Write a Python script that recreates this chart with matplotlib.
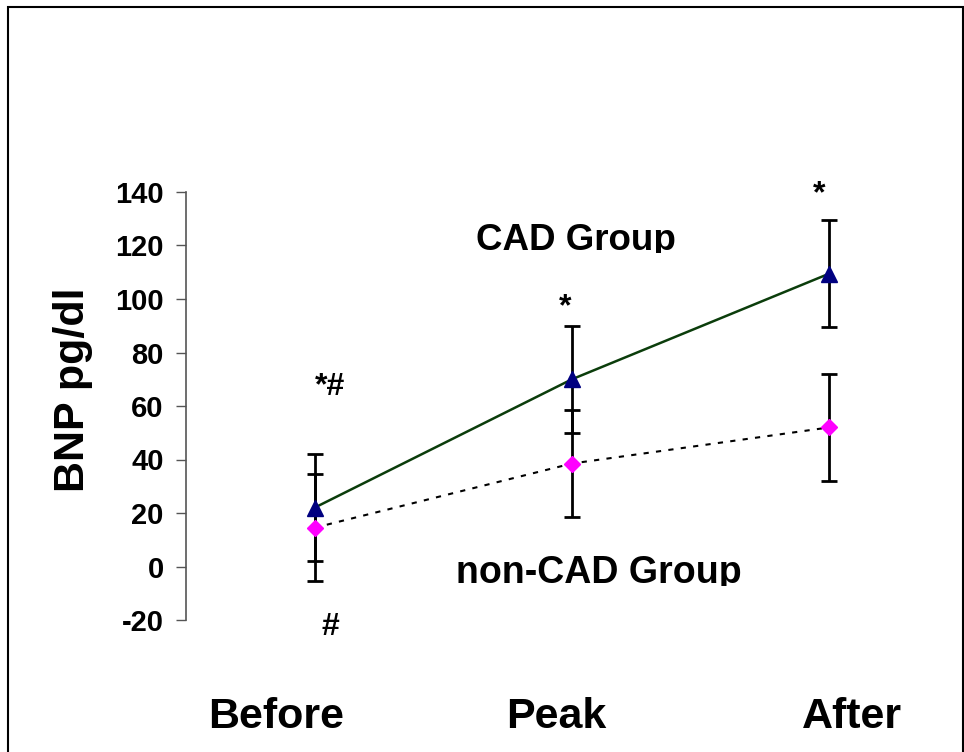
import matplotlib
matplotlib.use("Agg")
import matplotlib.pyplot as plt
from matplotlib.patches import Rectangle
from matplotlib.transforms import Bbox

plt.rcParams['font.family'] = ['Liberation Sans', 'DejaVu Sans']
plt.rcParams['font.weight'] = 'bold'

categories = ["Before", "Peak", "After"]
cad_values = [22, 70, 109.5]
cad_err = [20, 20, 20]
noncad_values = [14.5, 38.5, 52]
noncad_err = [20, 20, 20]
yticks = [-20, 0, 20, 40, 60, 80, 100, 120, 140]

W, H = 964, 752
fig = plt.figure(figsize=(W / 100, H / 100), dpi=100)
ax = fig.add_axes([186 / W, 1 - 620 / H, (958 - 186) / W, (620 - 192) / H])

x = list(range(len(categories)))

ax.errorbar(x, cad_values, yerr=cad_err, fmt='none', ecolor='black',
            elinewidth=2, capsize=6, capthick=2, zorder=2)
ax.errorbar(x, noncad_values, yerr=noncad_err, fmt='none', ecolor='black',
            elinewidth=2, capsize=6, capthick=2, zorder=2)
ax.plot(x, cad_values, color='#0b3d0b', lw=1.8, marker='^', markersize=11,
        markerfacecolor='#000080', markeredgecolor='#000080', zorder=3)
ax.plot(x, noncad_values, color='black', lw=1.5, linestyle=(0, (2.5, 3.5)),
        marker='D', markersize=8, markerfacecolor='#ff00ff',
        markeredgecolor='#ff00ff', zorder=3)

ax.set_xlim(-0.5, 2.5)
ax.set_ylim(-20, 140)
ax.set_yticks(yticks)
ax.set_yticklabels([str(v) for v in yticks], fontsize=21, fontweight='bold')
ax.tick_params(axis='y', direction='out', length=7, width=1, pad=9, colors='#555555',
               labelcolor='black')
ax.set_xticks([])
for s in ['top', 'right', 'bottom']:
    ax.spines[s].set_visible(False)
ax.spines['left'].set_color('#555555')
ax.spines['left'].set_linewidth(1.2)

ax.set_ylabel("BNP pg/dl", fontsize=31, fontweight='bold')
ax.yaxis.set_label_coords(-0.12, 0.537)

# significance marks
ax.text(0.06, 67, "*#", fontsize=23, fontweight='bold', ha='center', va='center', clip_on=False)
ax.text(0.975, 97, "*", fontsize=23, fontweight='bold', ha='center', va='center', clip_on=False)
ax.text(1.96, 139, "*", fontsize=23, fontweight='bold', ha='center', va='center', clip_on=False)
ax.text(0.06, -22.5, "#", fontsize=23, fontweight='bold', ha='center', va='center', clip_on=False)

# group labels (clipped at bottom as in reference)
t1 = fig.text(576 / W, 1 - 250 / H, "CAD Group", fontsize=26.5, fontweight='bold',
              ha='center', va='baseline')
t1.set_clip_box(Bbox.from_extents(0, H - 253, W, H))
t1.set_clip_on(True)
t2 = fig.text(599 / W, 1 - 583 / H, "non-CAD Group", fontsize=27, fontweight='bold',
              ha='center', va='baseline')
t2.set_clip_box(Bbox.from_extents(0, H - 586, W, H))
t2.set_clip_on(True)

# category labels
cat_px = [276, 556, 852]
for lab, px in zip(categories, cat_px):
    fig.text(px / W, 1 - 728 / H, lab, fontsize=31, fontweight='bold',
             ha='center', va='baseline')

# frame
fig.patches.append(Rectangle((8 / W, -0.2), (963 - 8) / W, 1.2 - 7 / H,
                             transform=fig.transFigure, fill=False,
                             edgecolor='black', lw=1.5))

fig.savefig("out.png", dpi=100)
